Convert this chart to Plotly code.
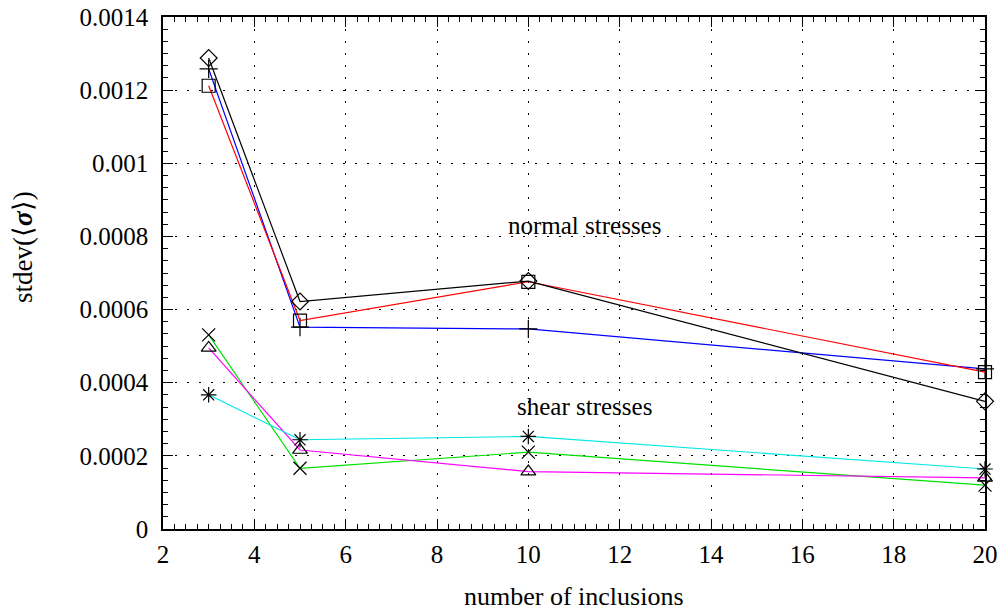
import plotly.graph_objects as go

n_inclusions = [3, 5, 10, 20]

normal_black = [0.001288, 0.000622, 0.000678, 0.000349]
normal_blue = [0.001258, 0.000552, 0.000547, 0.000438]
normal_red = [0.001212, 0.000570, 0.000676, 0.000429]

shear_green = [0.000531, 0.000166, 0.000210, 0.000120]
shear_magenta = [0.000495, 0.000216, 0.000157, 0.000140]
shear_cyan = [0.000367, 0.000244, 0.000253, 0.000164]

x_ticks = [2, 4, 6, 8, 10, 12, 14, 16, 18, 20]
y_ticks = [0, 0.0002, 0.0004, 0.0006, 0.0008, 0.001, 0.0012, 0.0014]
y_tick_labels = ["0", "0.0002", "0.0004", "0.0006", "0.0008", "0.001", "0.0012", "0.0014"]

FONT = "'Liberation Serif', 'Times New Roman', serif"

series = [
    (shear_green, "#00e000", "x-thin-open"),
    (shear_magenta, "#ff00ff", "triangle-up-open"),
    (shear_cyan, "#00e8e8", "asterisk-open"),
    (normal_blue, "#0000ff", "cross-thin-open"),
    (normal_red, "#ff0000", "square-open"),
    (normal_black, "#000000", "diamond-open"),
]

fig = go.Figure()
for vals, col, sym in series:
    fig.add_trace(go.Scatter(
        x=n_inclusions, y=vals, mode="lines+markers",
        line=dict(color=col, width=1.2),
        marker=dict(symbol=sym, size=13, color="black", line=dict(color="black", width=1.2)),
        showlegend=False, cliponaxis=False,
    ))

axis_common = dict(
    showline=True, linecolor="black", linewidth=1.5, mirror="allticks",
    ticks="inside", ticklen=10, tickcolor="black", tickwidth=1.2,
    showgrid=True, gridcolor="black", gridwidth=1.2, griddash="2px,10px",
    zeroline=False, automargin=False,
    tickfont=dict(family=FONT, size=25, color="black"),
)

fig.update_xaxes(
    range=[2, 20], tickvals=x_ticks, ticktext=[str(v) for v in x_ticks],
    minor=dict(dtick=0.25, ticks="inside", ticklen=5, tickcolor="black", showgrid=False),
    ticklabelstandoff=2,
    **axis_common,
)
fig.update_yaxes(
    range=[0, 0.0014], tickvals=y_ticks, ticktext=y_tick_labels,
    minor=dict(dtick=0.0002 / 6, tick0=0, ticks="inside", ticklen=5, tickcolor="black", showgrid=False),
    ticklabelstandoff=8,
    **axis_common,
)

annotations = [
    dict(x=11.24, y=0.000829, xref="x", yref="y", text="normal stresses", showarrow=False,
         font=dict(family=FONT, size=25, color="black")),
    dict(x=11.24, y=0.000335, xref="x", yref="y", text="shear stresses", showarrow=False,
         font=dict(family=FONT, size=25, color="black")),
    dict(x=0.5, y=-0.132, xref="paper", yref="paper", text="number of inclusions", showarrow=False,
         font=dict(family=FONT, size=26, color="black"), xanchor="center", yanchor="middle"),
    dict(x=-0.1703, y=0.551, xref="paper", yref="paper", text="stdev(⟨<b><i>σ</i></b>⟩)",
         showarrow=False, textangle=-90,
         font=dict(family=FONT, size=27, color="black"), xanchor="center", yanchor="middle"),
]

fig.update_layout(
    width=1001, height=611,
    margin=dict(l=163, r=16, t=17, b=82, autoexpand=False),
    paper_bgcolor="white", plot_bgcolor="white",
    annotations=annotations,
    showlegend=False,
)

fig.write_html("out.html")
